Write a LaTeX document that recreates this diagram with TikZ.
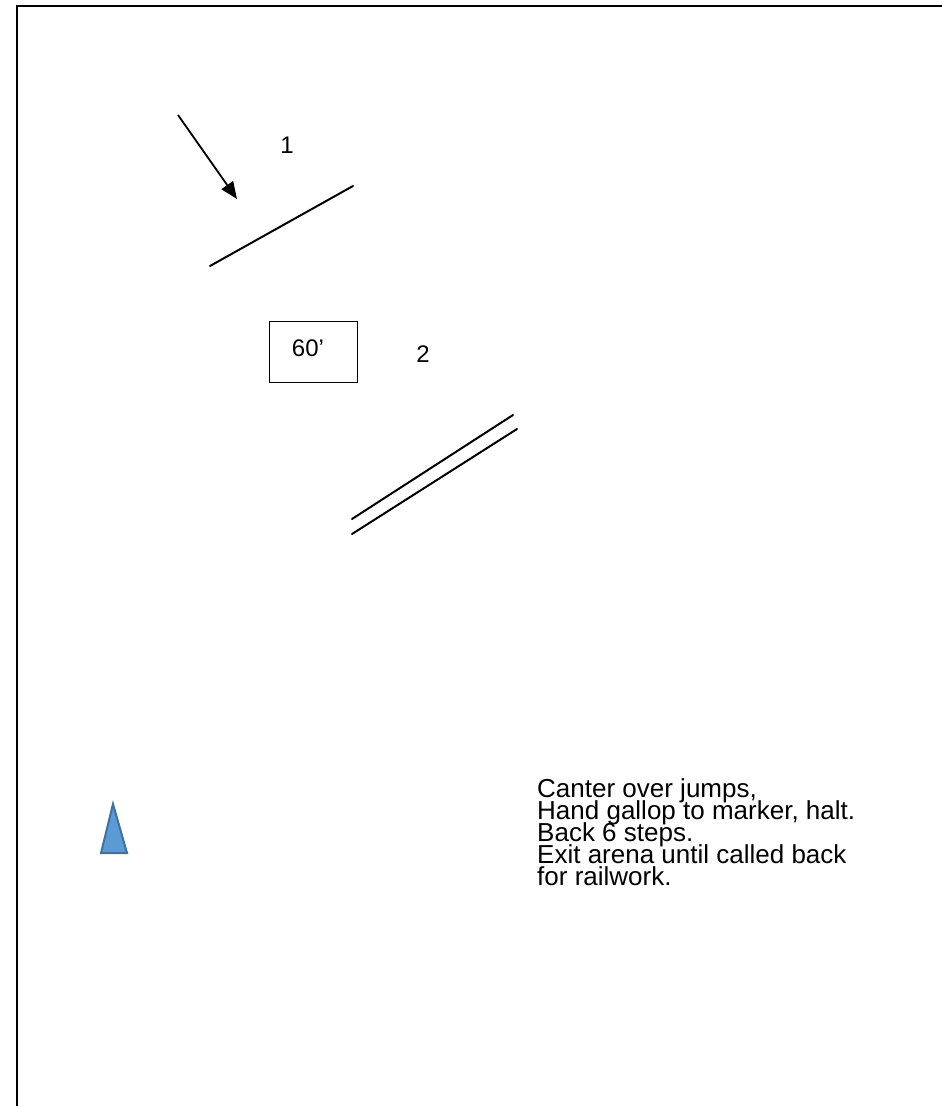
\documentclass[tikz,border=0pt]{standalone}
\usepackage{fontspec}
\setmainfont{Liberation Sans}
\usetikzlibrary{arrows.meta}
\definecolor{markfill}{HTML}{5B9BD5}
\definecolor{markedge}{HTML}{41719C}
\newcommand\myNotesFont{\fontsize{26}{22.2}\selectfont\lineskiplimit=-100pt\relax}
\tikzset{
  frameline/.style={line width=2pt, black},
  pole/.style={line width=2pt, black, line cap=round},
  pointer/.style={line width=1.8pt, black, -{Triangle[length=17pt,width=14pt]}},
  label/.style={font=\fontsize{24}{26}\selectfont, inner sep=0pt},
  boxlabel/.style={draw, line width=1pt, minimum width=88pt, minimum height=61pt, inner sep=0pt, font=\fontsize{24}{26}\selectfont},
  notes/.style={font=\myNotesFont, align=left, inner sep=0pt, anchor=north west},
  marker/.style={fill=markfill, draw=markedge, line width=2pt, line join=miter}
}
\begin{document}
\begin{tikzpicture}[x=1pt,y=-1pt]
\useasboundingbox (0,0) rectangle (942,1106);
% frame
\coordinate (fr) at (943,6);
\coordinate (ftl) at (17,6);
\coordinate (fb) at (17,1107);
\draw[frameline] (fr) -- (ftl) -- (fb);
% jump 1
\coordinate (arS) at (178,115);
\coordinate (arE) at (237,199);
\draw[pointer] (arS) -- (arE);
\node[label, anchor=base] (n1) at (287,153) {1};
\coordinate (j1a) at (210,266);
\coordinate (j1b) at (353,186);
\draw[pole] (j1a) -- (j1b);
% 60' box
\node[boxlabel] (dist) at (313,351.5) {\raisebox{6pt}{\hspace*{-10pt}60’}};
\node[label, anchor=base] (n2) at (423,362) {2};
% jump 2 (oxer)
\coordinate (j2a) at (352,519);
\coordinate (j2b) at (513,415);
\coordinate (j2c) at (352,534);
\coordinate (j2d) at (517,429);
\draw[pole] (j2a) -- (j2b);
\draw[pole] (j2c) -- (j2d);
% marker
\coordinate (mA) at (113,804);
\coordinate (mL) at (101,853);
\coordinate (mR) at (127,853);
\draw[marker] (mA) -- (mR) -- (mL) -- cycle;
% notes
\node[notes] (txt) at (537,778) {Canter over jumps,\\Hand gallop to marker, halt.\\Back 6 steps.\\Exit arena until called back\\for railwork.};
\end{tikzpicture}
\end{document}
